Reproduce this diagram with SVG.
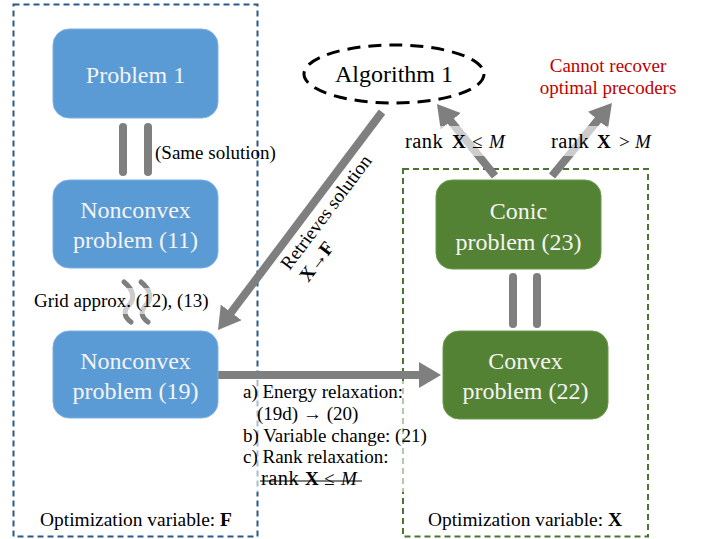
<svg xmlns="http://www.w3.org/2000/svg" width="706" height="539" viewBox="0 0 706 539" font-family="'Liberation Serif', 'Times New Roman', Times, serif">
<style>
text,tspan{font-family:'Liberation Serif','Times New Roman',Times,serif;}
.node text{fill:#F4F4F4;font-size:24px;text-anchor:middle;}
.blue rect{fill:#5B9BD5;stroke:#7FB0DF;stroke-width:1;}
.green rect{fill:#548235;stroke:#6A9A4A;stroke-width:1;}
.lbl{font-size:19px;fill:#000;}
.shaft{stroke:#7F7F7F;stroke-width:8;fill:none;}
.bar{stroke:#7F7F7F;stroke-width:8;stroke-linecap:round;}
.bg{fill:#fff;opacity:0.6;}
.b{font-weight:bold;}
.i{font-style:italic;}
.rk{font-size:20.5px;letter-spacing:0.4px;}
</style>
<defs>
<marker id="ah" markerUnits="userSpaceOnUse" markerWidth="24" markerHeight="26" refX="6" refY="13" orient="auto">
<path d="M0,0 L22,13 L0,26 z" fill="#7F7F7F"/>
</marker>
</defs>

<!-- region boxes -->
<rect x="13.5" y="4.5" width="244" height="532" fill="none" stroke="#2B5A88" stroke-width="2" stroke-dasharray="6,4"/>
<rect x="403" y="169" width="245" height="367.5" fill="none" stroke="#4A7530" stroke-width="2" stroke-dasharray="6,4"/>

<!-- equality bars and squiggles -->
<g id="bars">
<line class="bar" x1="123" y1="127" x2="123" y2="172"/>
<line class="bar" x1="148" y1="127" x2="148" y2="172"/>
<line class="bar" x1="513" y1="277" x2="513" y2="324"/>
<line class="bar" x1="537" y1="277" x2="537" y2="324"/>
<path d="M124,282 C134,290 135,299 129,305 C123,311 124,317 131,322" fill="none" stroke="#7F7F7F" stroke-width="5" stroke-linecap="round"/>
<path d="M141,282 C151,290 152,299 146,305 C140,311 141,317 148,322" fill="none" stroke="#7F7F7F" stroke-width="5" stroke-linecap="round"/>
</g>

<!-- connectors -->
<g id="connectors">
<line class="shaft" x1="382" y1="112" x2="227.6" y2="317.2" marker-end="url(#ah)"/>
<line class="shaft" x1="218" y1="375" x2="425" y2="375" marker-end="url(#ah)"/>
<line class="shaft" x1="495" y1="176" x2="447" y2="116.5" marker-end="url(#ah)"/>
<line class="shaft" x1="552" y1="176" x2="601.8" y2="115.4" marker-end="url(#ah)"/>
</g>

<!-- nodes -->
<g id="problem1" class="node blue">
<rect x="53" y="29" width="165" height="89" rx="16"/>
<text x="135.5" y="83">Problem 1</text>
</g>
<g id="nonconvex11" class="node blue">
<rect x="53" y="180" width="165" height="88" rx="16"/>
<text x="135.5" y="218">Nonconvex</text>
<text x="135.5" y="248">problem (11)</text>
</g>
<g id="nonconvex19" class="node blue">
<rect x="53" y="331" width="165" height="87" rx="16"/>
<text x="135.5" y="369">Nonconvex</text>
<text x="135.5" y="399">problem (19)</text>
</g>
<g id="conic23" class="node green">
<rect x="436" y="180" width="165" height="89" rx="16"/>
<text x="518.5" y="219">Conic</text>
<text x="518.5" y="250">problem (23)</text>
</g>
<g id="convex22" class="node green">
<rect x="443" y="331" width="165" height="88" rx="16"/>
<text x="525.5" y="369">Convex</text>
<text x="525.5" y="399">problem (22)</text>
</g>
<g id="algorithm1">
<ellipse cx="394" cy="74" rx="90" ry="29" fill="#fff" stroke="#000" stroke-width="3" stroke-dasharray="13,8"/>
<text x="394" y="82" font-size="24" text-anchor="middle" fill="#000">Algorithm 1</text>
</g>

<!-- labels -->
<g id="labels">
<text class="lbl" x="155" y="159">(Same solution)</text>

<rect class="bg" x="30" y="288" width="164" height="26"/>
<text class="lbl" x="34" y="307">Grid approx. (12), (13)</text>

<rect class="bg" x="401" y="126" width="108" height="30"/>
<text class="lbl" y="148"><tspan class="rk" x="405">rank</tspan><tspan class="b" x="452">X</tspan><tspan x="472">≤</tspan><tspan class="i" x="489">M</tspan></text>
<rect class="bg" x="547" y="126" width="110" height="30"/>
<text class="lbl" y="148"><tspan class="rk" x="551">rank</tspan><tspan class="b" x="597">X</tspan><tspan x="619">&gt;</tspan><tspan class="i" x="635">M</tspan></text>

<text class="lbl" x="608" y="72" text-anchor="middle" style="fill:#C00000">Cannot recover</text>
<text class="lbl" x="608" y="94" text-anchor="middle" style="fill:#C00000">optimal precoders</text>

<g transform="translate(331,216) rotate(-53)">
<text class="lbl" x="0" y="0" text-anchor="middle">Retrieves solution</text>
<text class="lbl" x="-45" y="22" text-anchor="middle"><tspan class="b">X</tspan>→<tspan class="b">F</tspan></text>
</g>

<rect class="bg" x="238" y="381" width="172" height="111"/>
<text class="lbl" x="243" y="398">a) Energy relaxation:</text>
<text class="lbl" x="257" y="420">(19d) → (20)</text>
<text class="lbl" x="243" y="442">b) Variable change: (21)</text>
<text class="lbl" x="243" y="463">c) Rank relaxation:</text>
<text class="lbl" y="485"><tspan class="rk" x="261">rank</tspan><tspan class="b" x="305">X</tspan><tspan x="324">≤</tspan><tspan class="i" x="341">M</tspan></text>
<line x1="260" y1="481" x2="362" y2="481" stroke="#000" stroke-width="1.2"/>

<text class="lbl" x="40" y="526" textLength="192" lengthAdjust="spacingAndGlyphs">Optimization variable: <tspan class="b">F</tspan></text>
<text class="lbl" x="428" y="526" textLength="194" lengthAdjust="spacingAndGlyphs">Optimization variable: <tspan class="b">X</tspan></text>
</g>
</svg>
